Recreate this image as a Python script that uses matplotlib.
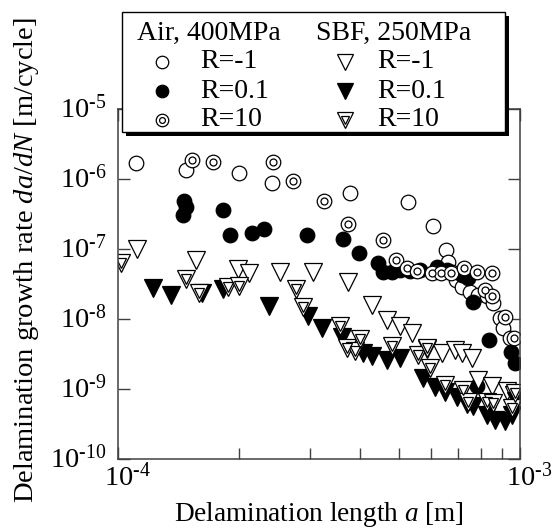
import matplotlib
matplotlib.use('Agg')
import matplotlib.pyplot as plt
from matplotlib.patches import Rectangle
from matplotlib.ticker import FixedLocator, FixedFormatter, NullFormatter
import matplotlib.transforms as mtransforms

plt.rcParams['font.family'] = 'Liberation Serif'
plt.rcParams['mathtext.fontset'] = 'custom'
plt.rcParams['mathtext.rm'] = 'Liberation Serif'
plt.rcParams['mathtext.it'] = 'Liberation Serif:italic'

# ---------------- data ----------------
# Air, 400MPa, R=-1 (open circles)
air_m1_a = [1.11e-4, 1.48e-4, 2.0e-4, 2.42e-4, 3.78e-4, 5.26e-4, 6.08e-4, 6.55e-4, 6.62e-4,
            6.77e-4, 6.93e-4, 7.17e-4, 7.51e-4, 7.86e-4, 8.28e-4, 8.57e-4, 8.92e-4, 9.07e-4, 9.44e-4]
air_m1_r = [1.69e-6, 1.35e-6, 1.22e-6, 8.8e-7, 6.3e-7, 4.7e-7, 2.1e-7, 9.7e-8, 6.5e-8,
            4.7e-8, 3.6e-8, 2.9e-8, 2.4e-8, 2.2e-8, 2.1e-8, 1.7e-8, 1.03e-8, 7.4e-9, 5.4e-9]
# Air, 400MPa, R=0.1 (filled circles)
air_01_a = [1.46e-4, 1.48e-4, 1.45e-4, 1.82e-4, 1.90e-4, 2.15e-4, 2.31e-4, 2.95e-4, 3.63e-4,
            3.98e-4, 4.43e-4, 4.56e-4, 4.80e-4, 5.03e-4, 5.33e-4, 5.64e-4, 6.22e-4, 6.58e-4,
            7.17e-4, 7.42e-4, 7.64e-4, 7.82e-4, 8.37e-4, 9.50e-4, 9.72e-4]
air_01_r = [4.9e-7, 4.0e-7, 3.06e-7, 3.6e-7, 1.58e-7, 1.69e-7, 1.93e-7, 1.58e-7, 1.39e-7,
            8.8e-8, 6.3e-8, 4.7e-8, 4.7e-8, 5.0e-8, 4.85e-8, 5.0e-8, 5.5e-8, 5.0e-8,
            4.25e-8, 3.85e-8, 1.75e-8, 1.1e-9, 5.0e-9, 3.4e-9, 2.35e-9]
# Air, 400MPa, R=10 (double circles)
air_10_a = [1.53e-4, 1.72e-4, 2.43e-4, 2.72e-4, 3.25e-4, 3.73e-4, 4.56e-4, 4.91e-4, 5.24e-4,
            5.54e-4, 6.04e-4, 6.36e-4, 6.73e-4, 7.26e-4, 7.82e-4, 8.52e-4, 8.18e-4, 8.52e-4,
            9.18e-4, 9.66e-4]
air_10_r = [1.87e-6, 1.75e-6, 1.75e-6, 9.4e-7, 4.85e-7, 2.28e-7, 1.35e-7, 7.0e-8, 5.35e-8,
            4.85e-8, 4.5e-8, 4.5e-8, 4.5e-8, 5.35e-8, 4.7e-8, 4.5e-8, 2.6e-8, 2.1e-8,
            1.07e-8, 5.35e-9]
# SBF, 250MPa, R=-1 (open triangles)
sbf_m1_a = [1.115e-4, 1.56e-4, 1.99e-4, 2.12e-4, 2.53e-4, 3.06e-4, 3.73e-4, 4.28e-4, 4.67e-4,
            5.03e-4, 5.39e-4, 5.87e-4, 6.40e-4, 6.89e-4, 7.17e-4, 7.60e-4, 7.86e-4, 8.52e-4,
            9.28e-4, 9.66e-4]
sbf_m1_r = [1.0e-7, 7.0e-8, 5.2e-8, 4.5e-8, 4.7e-8, 4.7e-8, 3.4e-8, 1.58e-8, 9.7e-9,
            7.9e-9, 6.3e-9, 3.7e-9, 3.27e-9, 3.6e-9, 3.27e-9, 2.77e-9, 1.35e-9, 1.1e-9,
            9.4e-10, 8.2e-10]
# SBF, 250MPa, R=0.1 (filled triangles)
sbf_01_a = [1.22e-4, 1.355e-4, 1.62e-4, 1.82e-4, 2.37e-4, 2.97e-4, 3.22e-4, 3.61e-4, 4.07e-4,
            4.28e-4, 4.67e-4, 5.03e-4, 5.74e-4, 6.15e-4, 6.51e-4, 6.97e-4, 7.38e-4, 7.64e-4,
            8.28e-4, 8.67e-4, 9.18e-4, 9.55e-4, 9.77e-4]
sbf_01_r = [2.77e-8, 2.2e-8, 2.35e-8, 2.7e-8, 1.53e-8, 1.1e-8, 7.4e-9, 5.5e-9, 3.27e-9,
            2.96e-9, 2.6e-9, 2.77e-9, 1.44e-9, 1.07e-9, 9.1e-10, 7.7e-10, 6.1e-10, 5.7e-10,
            4.25e-10, 3.6e-10, 3.5e-10, 4.25e-10, 6.7e-10]
# SBF, 250MPa, R=10 (double triangles)
sbf_10_a = [1.017e-4, 1.48e-4, 1.59e-4, 1.88e-4, 2.0e-4, 2.77e-4, 2.89e-4, 3.57e-4, 3.71e-4,
            3.89e-4, 4.0e-4, 4.80e-4, 5.57e-4, 5.87e-4, 5.97e-4, 6.51e-4, 7.21e-4, 7.42e-4,
            8.28e-4, 8.57e-4, 9.55e-4, 9.72e-4]
sbf_10_r = [6.3e-8, 3.7e-8, 2.35e-8, 2.86e-8, 2.96e-8, 2.7e-8, 1.48e-8, 7.9e-9, 3.85e-9,
            3.5e-9, 5.2e-9, 4.1e-9, 3.06e-9, 3.85e-9, 2.0e-9, 1.14e-9, 9.7e-10, 6.5e-10,
            6.5e-10, 6.3e-10, 5.35e-10, 8.8e-10]

xtick_vals = [1e-4, 1e-3]
xtick_labels = ['$10^{\\text{-4}}$', '$10^{\\text{-3}}$']
ytick_vals = [1e-10, 1e-9, 1e-8, 1e-7, 1e-6, 1e-5]
ytick_labels = ['$10^{\\text{-10}}$', '$10^{\\text{-9}}$', '$10^{\\text{-8}}$',
                '$10^{\\text{-7}}$', '$10^{\\text{-6}}$', '$10^{\\text{-5}}$']

# ---------------- figure ----------------
W, H = 552, 528
fig = plt.figure(figsize=(W / 100, H / 100), dpi=100)
ax = fig.add_axes([118 / W, 69 / H, 402 / W, 350 / H])
ax.set_xscale('log')
ax.set_yscale('log')
ax.set_xlim(1e-4, 1e-3)
ax.set_ylim(1e-10, 1e-5)

spc = '#404040'
for s in ax.spines.values():
    s.set_color(spc)
    s.set_linewidth(1.1)

ms_c, ms_t = 10.5, 12.5
mew = 0.9
k = dict(ls='none', mec='black', mew=mew)
ax.plot(air_m1_a, air_m1_r, 'o', ms=ms_c, mfc='white', **k)
ax.plot(air_01_a, air_01_r, 'o', ms=ms_c, mfc='black', **k)
ax.plot(air_10_a, air_10_r, 'o', ms=ms_c, mfc='white', **k)
ax.plot(air_10_a, air_10_r, 'o', ms=5.0, mfc='white', **k)
ax.plot(sbf_m1_a, sbf_m1_r, 'v', ms=ms_t, mfc='white', **k)
ax.plot(sbf_01_a, sbf_01_r, 'v', ms=ms_t, mfc='black', **k)
ax.plot(sbf_10_a, sbf_10_r, 'v', ms=ms_t, mfc='white', **k)
ax.plot(sbf_10_a, sbf_10_r, 'v', ms=6.5, mfc='white', **k)

fs_tick = 20.5
ax.xaxis.set_major_locator(FixedLocator(xtick_vals))
ax.xaxis.set_major_formatter(FixedFormatter(xtick_labels))
ax.xaxis.set_minor_locator(FixedLocator([m * 1e-4 for m in range(2, 10)]))
ax.xaxis.set_minor_formatter(NullFormatter())
ax.yaxis.set_major_locator(FixedLocator(ytick_vals))
ax.yaxis.set_major_formatter(FixedFormatter(ytick_labels))
ax.yaxis.set_minor_locator(FixedLocator([]))
ax.tick_params(which='both', direction='in', top=True, right=True, color=spc, width=1.0,
               labelsize=fs_tick)
ax.tick_params(which='major', length=8.5)
ax.tick_params(which='minor', length=8)
ax.tick_params(axis='x', pad=3)
ax.tick_params(axis='y', pad=8)

offx = mtransforms.ScaledTranslation(9 / 100, 0, fig.dpi_scale_trans)
for lab in ax.get_xticklabels():
    lab.set_transform(lab.get_transform() + offx)
offy = mtransforms.ScaledTranslation(0, 3 / 100, fig.dpi_scale_trans)
for lab in ax.get_yticklabels():
    lab.set_transform(lab.get_transform() + offy)

ax.set_xlabel('Delamination length $a$ [m]', fontsize=19.6)
ax.set_ylabel('Delamination growth rate $da/dN$ [m/cycle]', fontsize=20.5)
ax.xaxis.set_label_coords(0.5, -0.117)
ax.yaxis.set_label_coords(-0.1915, 0.569)

# ---------------- legend box ----------------
lg = fig.add_axes([0, 0, 1, 1], zorder=5)
lg.set_xlim(0, W)
lg.set_ylim(H, 0)
lg.axis('off')
fs = 20
x0, y0, x1, y1 = 122, 12, 505, 132
lg.add_patch(Rectangle((x0 + 4, y0 + 4), x1 - x0, y1 - y0, fc='black', ec='black', lw=0))
lg.add_patch(Rectangle((x0, y0), x1 - x0, y1 - y0, fc='white', ec='black', lw=1.0))
lg.text(137, 33, 'Air, 400MPa', fontsize=fs, va='center', ha='left')
lg.text(316, 33, 'SBF, 250MPa', fontsize=fs, va='center', ha='left')
rows = [62, 91, 120]
labels = ['R=-1', 'R=0.1', 'R=10']
for yy, t in zip(rows, labels):
    lg.text(200, yy, t, fontsize=fs, va='center', ha='left')
    lg.text(377, yy, t, fontsize=fs, va='center', ha='left')
lk = dict(ls='none', mec='black', mew=mew)
lg.plot([162], [rows[0]], 'o', ms=9, mfc='white', **lk)
lg.plot([162], [rows[1]], 'o', ms=9, mfc='black', **lk)
lg.plot([162], [rows[2]], 'o', ms=9, mfc='white', **lk)
lg.plot([162], [rows[2]], 'o', ms=4.2, mfc='white', **lk)
lg.plot([345], [rows[0]], 'v', ms=11, mfc='white', **lk)
lg.plot([345], [rows[1]], 'v', ms=11, mfc='black', **lk)
lg.plot([345], [rows[2]], 'v', ms=11, mfc='white', **lk)
lg.plot([345], [rows[2]], 'v', ms=5.5, mfc='white', **lk)

fig.savefig('out.png', dpi=100)
